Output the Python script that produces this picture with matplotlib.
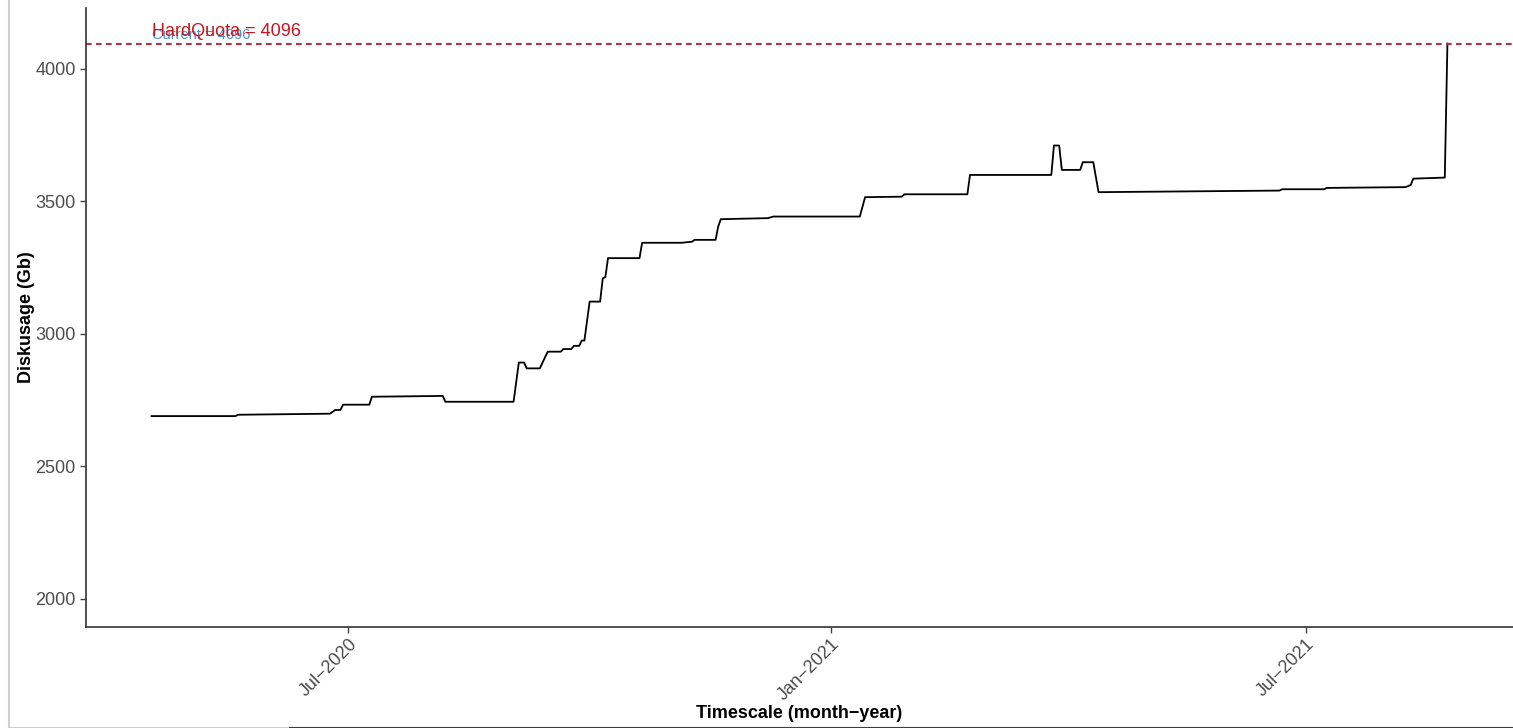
import matplotlib
matplotlib.use("Agg")
import matplotlib.pyplot as plt
import numpy as np
from matplotlib.lines import Line2D

plt.rcParams["font.family"] = ["Liberation Sans", "DejaVu Sans"]

# disk usage snapshots (Gb)
dates = [
    "2020-04-17", "2020-05-19", "2020-05-20", "2020-06-24", "2020-06-26",
    "2020-06-28", "2020-06-29", "2020-07-09", "2020-07-10", "2020-08-06",
    "2020-08-07", "2020-09-02", "2020-09-04", "2020-09-06", "2020-09-07",
    "2020-09-12", "2020-09-15", "2020-09-20", "2020-09-21", "2020-09-24",
    "2020-09-25", "2020-09-27", "2020-09-28", "2020-09-29", "2020-10-01",
    "2020-10-05", "2020-10-06", "2020-10-07", "2020-10-08", "2020-10-20",
    "2020-10-21", "2020-11-05", "2020-11-09", "2020-11-10", "2020-11-18",
    "2020-11-19", "2020-11-20", "2020-12-08", "2020-12-10", "2021-01-12",
    "2021-01-14", "2021-01-28", "2021-01-29", "2021-02-22", "2021-02-23",
    "2021-03-26", "2021-03-27", "2021-03-29", "2021-03-30", "2021-04-06",
    "2021-04-07", "2021-04-11", "2021-04-13", "2021-06-21", "2021-06-22",
    "2021-07-08", "2021-07-09", "2021-08-08", "2021-08-10", "2021-08-11",
    "2021-08-23", "2021-08-24",
]
usage = [
    2690, 2690, 2695, 2699, 2713,
    2713, 2733, 2733, 2763, 2766,
    2744, 2744, 2892, 2892, 2870,
    2870, 2933, 2933, 2943, 2943,
    2955, 2955, 2975, 2975, 3122,
    3122, 3210, 3215, 3286, 3286,
    3344, 3344, 3348, 3355, 3355,
    3405, 3433, 3437, 3443, 3443,
    3516, 3518, 3527, 3527, 3600,
    3600, 3711, 3711, 3619, 3619,
    3648, 3648, 3535, 3541, 3546,
    3546, 3551, 3554, 3562, 3586,
    3590, 4096,
]

hard_quota = 4096
current = 4096
tick_dates = ["2020-07-01", "2021-01-01", "2021-07-01"]
tick_labels = ["Jul\u22122020", "Jan\u22122021", "Jul\u22122021"]
y_ticks = [2000, 2500, 3000, 3500, 4000]

x = np.array(dates, dtype="datetime64[D]")
y = np.array(usage)

fig = plt.figure(figsize=(15.13, 7.28), dpi=100)
ax = fig.add_axes([86 / 1513, 101 / 728, 1 - 86 / 1513, 619 / 728])

ax.plot(x, y, color="black", lw=1.3)

ax.axhline(current, color="#4a90c8", lw=1.6, ls=(0, (2.5, 2.0)))
ax.axhline(hard_quota, color="#c8232c", lw=1.2, ls=(0, (3.3, 2.7)))
ax.text(x[0], 4128, f"Current = {current}", color="#4a90c8",
        fontsize=10.5, va="center", ha="left")
ax.text(x[0], 4141, f"HardQuota = {hard_quota}", color="#c8141e",
        fontsize=13, va="center", ha="left")

# ggplot-like 5% padding on dates
span = x[-1] - x[0]
pad = np.timedelta64(int(round(span.astype(int) * 0.05)), "D")
ax.set_xlim(x[0] - pad, x[-1] + pad)
ax.set_ylim(1894, 4230)

ax.set_xticks(np.array(tick_dates, dtype="datetime64[D]"))
ax.set_xticklabels(tick_labels, rotation=45, ha="right", rotation_mode="anchor")
ax.set_yticks(y_ticks)

ax.tick_params(axis="both", colors="#444444", labelsize=13, length=4,
               width=1, labelcolor="#4d4d4d")
ax.tick_params(axis="x", pad=2)

for side in ["top", "right"]:
    ax.spines[side].set_visible(False)
for side in ["left", "bottom"]:
    ax.spines[side].set_color("#333333")
    ax.spines[side].set_linewidth(1.2)

ax.set_xlabel("Timescale (month\u2212year)", fontsize=13, fontweight="bold",
              labelpad=1)
ax.set_ylabel("Diskusage (Gb)", fontsize=13, fontweight="bold", labelpad=0)

# screenshot borders
fig.add_artist(Line2D([8.5 / 1513, 8.5 / 1513], [0, 1], color="#d0d0d0",
                      lw=1.5, transform=fig.transFigure))
fig.add_artist(Line2D([8.5 / 1513, 1], [0.5 / 728, 0.5 / 728], color="#d0d0d0",
                      lw=1.5, transform=fig.transFigure))
fig.add_artist(Line2D([290 / 1513, 1], [0.5 / 728, 0.5 / 728], color="#3a3f44",
                      lw=1.5, transform=fig.transFigure))

fig.savefig("out.png", dpi=100)
